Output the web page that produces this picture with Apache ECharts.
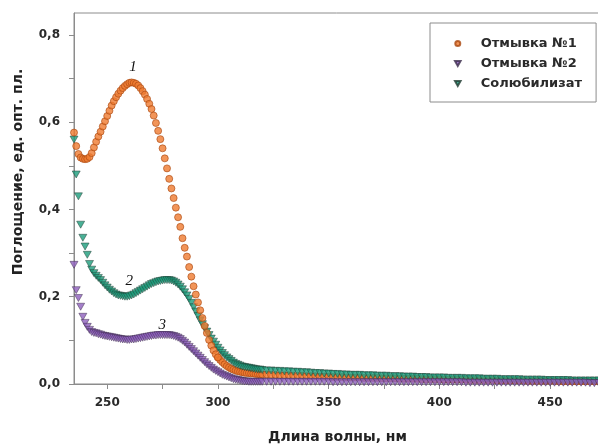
<!DOCTYPE html>
<html>
<head>
<meta charset="utf-8">
<script src="https://cdn.jsdelivr.net/npm/echarts@6/dist/echarts.min.js"></script>
<style>
  html, body { margin: 0; padding: 0; background: #fff; }
  #chart { width: 598px; height: 446px; }
</style>
</head>
<body>
<div id="chart"></div>
<script>
// длины волн, нм: шаг 1 до 320, дальше шаг 2
const wl = [
  235, 236, 237, 238, 239, 240, 241, 242, 243, 244,
  245, 246, 247, 248, 249, 250, 251, 252, 253, 254,
  255, 256, 257, 258, 259, 260, 261, 262, 263, 264,
  265, 266, 267, 268, 269, 270, 271, 272, 273, 274,
  275, 276, 277, 278, 279, 280, 281, 282, 283, 284,
  285, 286, 287, 288, 289, 290, 291, 292, 293, 294,
  295, 296, 297, 298, 299, 300, 301, 302, 303, 304,
  305, 306, 307, 308, 309, 310, 311, 312, 313, 314,
  315, 316, 317, 318, 319, 320,
  322, 324, 326, 328, 330, 332, 334, 336, 338, 340,
  342, 344, 346, 348, 350, 352, 354, 356, 358, 360,
  362, 364, 366, 368, 370, 372, 374, 376, 378, 380,
  382, 384, 386, 388, 390, 392, 394, 396, 398, 400,
  402, 404, 406, 408, 410, 412, 414, 416, 418, 420,
  422, 424, 426, 428, 430, 432, 434, 436, 438, 440,
  442, 444, 446, 448, 450, 452, 454, 456, 458, 460,
  462, 464, 466, 468, 470, 472
]

// Отмывка №1
const wash1 = [
  0.576, 0.545, 0.527, 0.519, 0.516, 0.515, 0.516, 0.520, 0.529, 0.542,
  0.555, 0.567, 0.578, 0.590, 0.602, 0.614, 0.626, 0.638, 0.648, 0.657,
  0.665, 0.672, 0.678, 0.683, 0.687, 0.690, 0.691, 0.690, 0.688, 0.684,
  0.678, 0.671, 0.663, 0.653, 0.642, 0.630, 0.615, 0.598, 0.580, 0.561,
  0.540, 0.517, 0.494, 0.470, 0.448, 0.426, 0.404, 0.382, 0.360, 0.334,
  0.312, 0.292, 0.268, 0.246, 0.224, 0.205, 0.187, 0.169, 0.151, 0.133,
  0.117, 0.101, 0.088, 0.077, 0.068, 0.061, 0.055, 0.050, 0.045, 0.041,
  0.038, 0.035, 0.033, 0.031, 0.029, 0.028, 0.027, 0.026, 0.025, 0.025,
  0.024, 0.024, 0.023, 0.023, 0.022, 0.022,
  0.022, 0.021, 0.021, 0.020, 0.020, 0.020, 0.019, 0.019, 0.019, 0.018,
  0.018, 0.018, 0.017, 0.017, 0.017, 0.016, 0.016, 0.016, 0.015, 0.015,
  0.015, 0.015, 0.014, 0.014, 0.014, 0.014, 0.013, 0.013, 0.013, 0.013,
  0.012, 0.012, 0.012, 0.012, 0.012, 0.011, 0.011, 0.011, 0.011, 0.011,
  0.010, 0.010, 0.010, 0.010, 0.010, 0.010, 0.009, 0.009, 0.009, 0.009,
  0.009, 0.009, 0.008, 0.008, 0.008, 0.008, 0.008, 0.008, 0.008, 0.007,
  0.007, 0.007, 0.007, 0.007, 0.007, 0.007, 0.006, 0.006, 0.006, 0.006,
  0.006, 0.006, 0.006, 0.006, 0.006, 0.006
]

// Отмывка №2
const wash2 = [
  0.273, 0.215, 0.197, 0.177, 0.154, 0.140, 0.131, 0.124, 0.119, 0.117,
  0.116, 0.114, 0.113, 0.111, 0.110, 0.109, 0.108, 0.107, 0.106, 0.105,
  0.104, 0.103, 0.102, 0.102, 0.101, 0.101, 0.102, 0.102, 0.103, 0.104,
  0.105, 0.106, 0.107, 0.108, 0.109, 0.110, 0.111, 0.111, 0.112, 0.112,
  0.112, 0.112, 0.112, 0.112, 0.111, 0.110, 0.108, 0.106, 0.103, 0.099,
  0.095, 0.090, 0.085, 0.080, 0.075, 0.070, 0.065, 0.060, 0.055, 0.050,
  0.045, 0.041, 0.037, 0.033, 0.030, 0.027, 0.024, 0.021, 0.019, 0.017,
  0.015, 0.013, 0.011, 0.010, 0.009, 0.008, 0.007, 0.006, 0.006, 0.005,
  0.005, 0.005, 0.005, 0.005, 0.005, 0.005,
  0.005, 0.005, 0.005, 0.005, 0.005, 0.005, 0.005, 0.005, 0.005, 0.005,
  0.005, 0.005, 0.005, 0.005, 0.005, 0.004, 0.004, 0.004, 0.004, 0.004,
  0.004, 0.004, 0.004, 0.004, 0.004, 0.004, 0.004, 0.004, 0.004, 0.004,
  0.004, 0.004, 0.004, 0.004, 0.004, 0.004, 0.004, 0.004, 0.004, 0.004,
  0.004, 0.004, 0.004, 0.004, 0.004, 0.003, 0.003, 0.003, 0.003, 0.003,
  0.003, 0.003, 0.003, 0.003, 0.003, 0.003, 0.003, 0.003, 0.003, 0.003,
  0.003, 0.003, 0.003, 0.003, 0.003, 0.003, 0.003, 0.003, 0.003, 0.003,
  0.003, 0.003, 0.003, 0.002, 0.002, 0.002
]

// Солюбилизат
const solub = [
  0.560, 0.480, 0.430, 0.365, 0.335, 0.315, 0.296, 0.275, 0.262, 0.254,
  0.248, 0.243, 0.238, 0.232, 0.226, 0.221, 0.216, 0.212, 0.208, 0.205,
  0.203, 0.202, 0.201, 0.200, 0.200, 0.201, 0.203, 0.205, 0.208, 0.211,
  0.214, 0.217, 0.220, 0.223, 0.226, 0.229, 0.231, 0.233, 0.235, 0.236,
  0.237, 0.238, 0.238, 0.238, 0.237, 0.235, 0.232, 0.228, 0.223, 0.217,
  0.210, 0.203, 0.195, 0.186, 0.176, 0.166, 0.156, 0.146, 0.137, 0.128,
  0.120, 0.112, 0.104, 0.097, 0.090, 0.083, 0.077, 0.071, 0.066, 0.061,
  0.057, 0.053, 0.049, 0.046, 0.044, 0.042, 0.040, 0.039, 0.038, 0.037,
  0.036, 0.035, 0.034, 0.033, 0.033, 0.032,
  0.031, 0.031, 0.030, 0.030, 0.029, 0.029, 0.028, 0.028, 0.027, 0.027,
  0.026, 0.025, 0.025, 0.024, 0.024, 0.023, 0.023, 0.022, 0.022, 0.021,
  0.021, 0.021, 0.020, 0.020, 0.020, 0.019, 0.019, 0.019, 0.018, 0.018,
  0.018, 0.017, 0.017, 0.017, 0.016, 0.016, 0.016, 0.015, 0.015, 0.015,
  0.015, 0.014, 0.014, 0.014, 0.014, 0.013, 0.013, 0.013, 0.013, 0.012,
  0.012, 0.012, 0.012, 0.011, 0.011, 0.011, 0.011, 0.011, 0.010, 0.010,
  0.010, 0.010, 0.010, 0.009, 0.009, 0.009, 0.009, 0.009, 0.009, 0.008,
  0.008, 0.008, 0.008, 0.008, 0.008, 0.008
]

const names = ['Отмывка №1', 'Отмывка №2', 'Солюбилизат']
const xLabels = [250, 300, 350, 400, 450]
const xTicks = [250, 275, 300, 325, 350, 375, 400, 425, 450]
const yLabels = [0, 0.2, 0.4, 0.6, 0.8]
const yTicks = [0, 0.1, 0.2, 0.3, 0.4, 0.5, 0.6, 0.7, 0.8]

const pairs = (ys, from = 0, to = wl.length) =>
  wl.slice(from, to).map((x, i) => [x, ys[from + i]])

// индекс 300 нм — после него оранжевые точки уходят под зелёные
const cut = wl.indexOf(300)

const axisColor = '#8c8c8c'
const labelFont = { fontFamily: 'DejaVu Sans', fontWeight: 'bold', fontSize: 12, color: '#2a2a2a' }
const downTri = 'path://M0,0L10,0L5,9Z'

const orangeStyle = { color: '#ef7a30', borderColor: '#a9470f', borderWidth: 0.8 }
const purpleStyle = { color: '#8d5fbd', borderColor: '#3a2a4a', borderWidth: 0.6 }
const greenStyle = { color: '#1b9c7c', borderColor: '#1f3a30', borderWidth: 0.6 }

const tag = (text, coord) => ({
  coord: coord,
  symbol: 'circle',
  symbolSize: 1,
  itemStyle: { color: 'rgba(0,0,0,0)' },
  label: {
    show: true, position: 'inside', formatter: text,
    fontFamily: 'Liberation Serif', fontStyle: 'italic', fontSize: 15, color: '#111'
  }
})

const chart = echarts.init(document.getElementById('chart'))
const option = {
  animation: false,
  grid: {
    left: 74, top: 13, right: -3, bottom: 62,
    outerBoundsMode: 'none',
    show: true, borderColor: axisColor, borderWidth: 1
  },
  legend: {
    orient: 'vertical',
    left: 430,
    top: 23,
    padding: [14, 14, 12, 24],
    itemGap: 7,
    itemWidth: 36,
    itemHeight: 5,
    borderColor: axisColor,
    borderWidth: 1,
    backgroundColor: '#fff',
    textStyle: Object.assign({}, labelFont, { fontSize: 13 }),
    data: names
  },
  xAxis: {
    type: 'value',
    min: 235,
    max: 473,
    name: 'Длина волны, нм',
    nameLocation: 'middle',
    nameGap: 46,
    nameTextStyle: { fontFamily: 'DejaVu Sans', fontWeight: 'bold', fontSize: 14, color: '#222' },
    axisLine: { lineStyle: { color: axisColor } },
    axisTick: { length: 5, customValues: xTicks, lineStyle: { color: axisColor } },
    axisLabel: Object.assign({ customValues: xLabels, margin: 13 }, labelFont),
    splitLine: { show: false }
  },
  yAxis: {
    type: 'value',
    min: 0,
    max: 0.85,
    axisLine: { show: true, lineStyle: { color: axisColor } },
    axisTick: { show: true, length: 5, customValues: yTicks, lineStyle: { color: axisColor } },
    axisLabel: Object.assign({
      customValues: yLabels,
      margin: 14,
      formatter: (v) => v.toFixed(1).replace('.', ',')
    }, labelFont),
    splitLine: { show: false }
  },
  graphic: [{
    type: 'text',
    x: 18,
    y: 172,
    rotation: Math.PI / 2,
    style: {
      text: 'Поглощение, ед. опт. пл.',
      font: 'bold 14px "DejaVu Sans"',
      fill: '#222',
      textAlign: 'center',
      textVerticalAlign: 'middle'
    }
  }],
  series: [
    {
      name: names[0], type: 'scatter', z: 1,
      data: pairs(wash1, cut),
      symbol: 'circle', symbolSize: 7, itemStyle: orangeStyle
    },
    {
      name: names[2], type: 'scatter', z: 2,
      data: pairs(solub),
      symbol: downTri, symbolSize: [8, 7], itemStyle: greenStyle,
      markPoint: { data: [tag('2', [259.9, 0.236])] }
    },
    {
      name: names[1], type: 'scatter', z: 3,
      data: pairs(wash2),
      symbol: downTri, symbolSize: [8, 7], itemStyle: purpleStyle,
      markPoint: { data: [tag('3', [274.8, 0.135])] }
    },
    {
      name: names[0], type: 'scatter', z: 4,
      data: pairs(wash1, 0, cut + 1),
      symbol: 'circle', symbolSize: 7, itemStyle: orangeStyle,
      markPoint: { data: [tag('1', [261.7, 0.725])] }
    }
  ]
}
chart.setOption(option)
</script>
</body>
</html>
